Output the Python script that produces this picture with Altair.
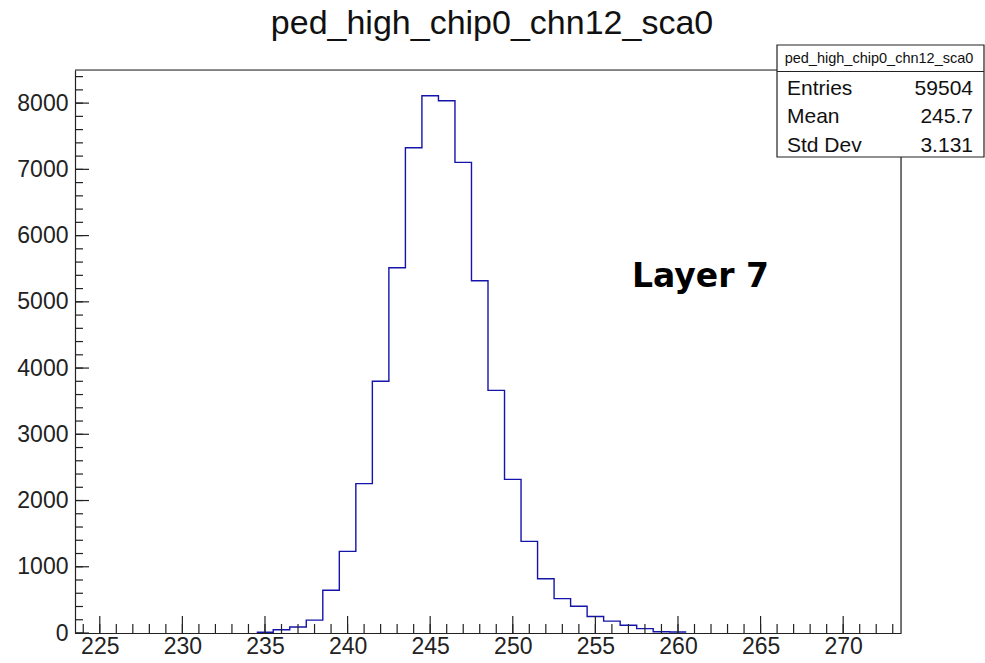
import altair as alt
import pandas as pd

# Histogram data (bin centres, counts)
bin_centers = list(range(235, 261))
counts = [12, 50, 90, 195, 645, 1233, 2255, 3800, 5515, 7327, 8112, 8036, 7105,
          5319, 3663, 2320, 1384, 820, 519, 403, 250, 180, 116, 66, 20, 15]
bin_width = 1.0

x_domain = [223.5, 273.5]
y_domain = [0, 8500]
x_major = list(range(225, 271, 5))
x_minor = list(range(224, 274))
y_major = list(range(0, 8001, 1000))
y_minor = list(range(0, 8401, 200))

title_text = "ped_high_chip0_chn12_sca0"
stats_labels = ["Entries", "Mean", "Std Dev"]
stats_values = ["59504", "245.7", "3.131"]
layer_text = "Layer 7"

W, H = 826, 563
FONT = "Liberation Sans"
LINE = "#1414aa"
INK = "#222"

# step outline: left edges + final right edge
edges = [c - bin_width / 2 for c in bin_centers] + [bin_centers[-1] + bin_width / 2]
vals = counts + [counts[-1]]
hist_df = pd.DataFrame({"x": edges, "y": vals})

xs = alt.Scale(domain=x_domain, nice=False, zero=False)
ys = alt.Scale(domain=y_domain, nice=False)

hist = alt.Chart(hist_df).mark_line(
    interpolate="step-after", color=LINE, strokeWidth=1.4
).encode(
    x=alt.X("x:Q", scale=xs, axis=alt.Axis(values=x_major, ticks=False, grid=False, format="d",
                                          labelFontSize=23, labelFont=FONT, labelColor=INK,
                                          labelPadding=2, domainColor=INK, domainWidth=1.2,
                                          title=None, labelFlush=False)),
    y=alt.Y("y:Q", scale=ys, axis=alt.Axis(values=y_major, ticks=False, grid=False, format="d",
                                          labelFontSize=23, labelFont=FONT, labelColor=INK,
                                          labelPadding=7, domainColor=INK, domainWidth=1.2,
                                          title=None, labelFlush=False)),
)

xmaj = alt.Chart(pd.DataFrame({"t": x_major})).mark_rule(color=INK, strokeWidth=1.2).encode(
    x=alt.X("t:Q", scale=xs), y=alt.value(H), y2=alt.value(H - 17))
xmin = alt.Chart(pd.DataFrame({"t": x_minor})).mark_rule(color=INK, strokeWidth=1.2).encode(
    x=alt.X("t:Q", scale=xs), y=alt.value(H), y2=alt.value(H - 9))
ymaj = alt.Chart(pd.DataFrame({"t": y_major})).mark_rule(color=INK, strokeWidth=1.2).encode(
    y=alt.Y("t:Q", scale=ys), x=alt.value(0), x2=alt.value(14))
ymin = alt.Chart(pd.DataFrame({"t": y_minor})).mark_rule(color=INK, strokeWidth=1.2).encode(
    y=alt.Y("t:Q", scale=ys), x=alt.value(0), x2=alt.value(8))

one = pd.DataFrame({"a": [0]})
frame_top = alt.Chart(one).mark_rule(color=INK, strokeWidth=1.2).encode(
    x=alt.value(0), x2=alt.value(W), y=alt.value(0))
frame_right = alt.Chart(one).mark_rule(color=INK, strokeWidth=1.2).encode(
    x=alt.value(W), y=alt.value(0), y2=alt.value(H))

title = alt.Chart(pd.DataFrame({"t": [title_text]})).mark_text(
    font=FONT, fontSize=34, color="#111", align="center", baseline="alphabetic"
).encode(text="t:N", x=alt.value(417), y=alt.value(-36))

layer = alt.Chart(pd.DataFrame({"t": [layer_text]})).mark_text(
    font="DejaVu Sans", fontSize=33, fontWeight="bold", color="#000", align="left",
    baseline="alphabetic"
).encode(text="t:N", x=alt.value(557), y=alt.value(217))

box = alt.Chart(one).mark_rect(
    fill="white", stroke=INK, strokeWidth=1.2
).encode(x=alt.value(702), x2=alt.value(909), y=alt.value(-25), y2=alt.value(87))
sep = alt.Chart(one).mark_rule(color=INK, strokeWidth=1.2).encode(
    x=alt.value(702), x2=alt.value(909), y=alt.value(1.5))
box_head = alt.Chart(pd.DataFrame({"t": [title_text]})).mark_text(
    font=FONT, fontSize=14.5, color="#111", align="center", baseline="alphabetic"
).encode(text="t:N", x=alt.value(804), y=alt.value(-7))

row_y = [25, 53, 82]
stat_layers = []
for lab, val, yy in zip(stats_labels, stats_values, row_y):
    d = pd.DataFrame({"l": [lab], "v": [val]})
    stat_layers.append(alt.Chart(d).mark_text(
        font=FONT, fontSize=21, color="#111", align="left", baseline="alphabetic"
    ).encode(text="l:N", x=alt.value(712), y=alt.value(yy)))
    stat_layers.append(alt.Chart(d).mark_text(
        font=FONT, fontSize=21, color="#111", align="right", baseline="alphabetic"
    ).encode(text="v:N", x=alt.value(898), y=alt.value(yy)))

chart = alt.layer(
    hist, xmin, xmaj, ymin, ymaj, frame_top, frame_right, title, layer,
    box, sep, box_head, *stat_layers
).properties(
    width=W, height=H,
    autosize=alt.AutoSizeParams(type="none"),
    padding={"left": 75, "top": 70, "right": 84, "bottom": 30},
).configure_view(stroke=None).configure(background="white")

chart.save("out.html", embed_options={"renderer": "svg", "actions": False})
